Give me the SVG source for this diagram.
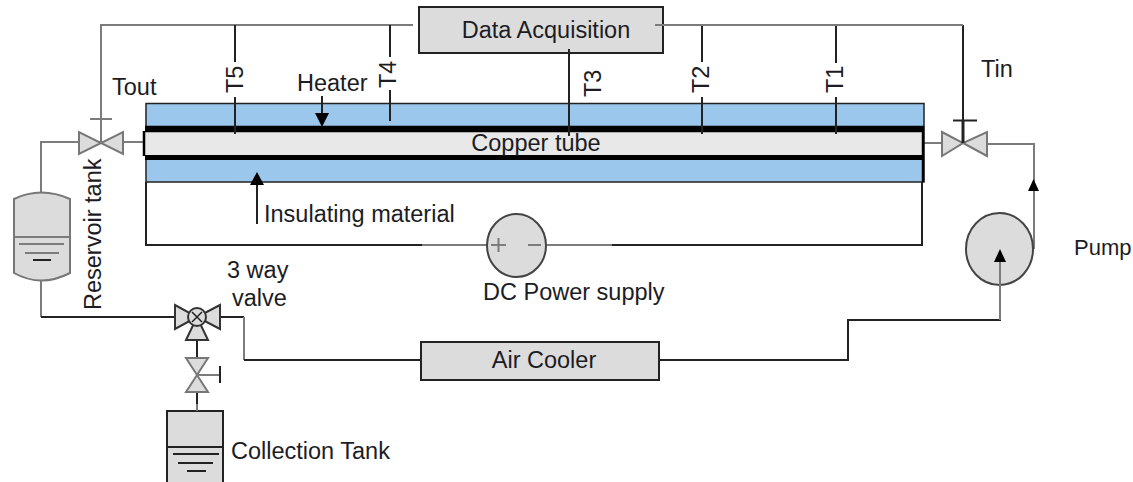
<svg xmlns="http://www.w3.org/2000/svg" width="1133" height="482" viewBox="0 0 1133 482">
<defs>
<style>
text{font-family:"Liberation Sans",Arial,sans-serif;font-size:23.500px;fill:#1c1c24}
.d{fill:none;stroke:#222;stroke-width:2}
.g{fill:none;stroke:#7c7c7c;stroke-width:2}
.b{fill:#dcdcdc;stroke:#222;stroke-width:2}
.v{fill:#dcdcdc;stroke:#777;stroke-width:2}
.ins{fill:#9bc7ec;stroke:#222;stroke-width:1.500}
.a{fill:#000}
</style>
</defs>
<rect width="1133" height="482" fill="#fff"/>
<g id="connectors">
<path class="g" d="M101 142H41V193"/>
<path class="g" d="M101 142V25H413"/>
<path class="g" d="M41 280V317"/>
<path class="d" d="M41 317H175"/>
<path class="d" d="M220 317H244"/>
<path class="g" d="M244 317V360"/>
<path class="d" d="M244 360H421"/>
<path class="d" d="M659 360H848V320H1000V250"/>
<path class="g" d="M1034 249V144H988"/>
<path class="g" d="M924 143H943"/>
<path class="g" d="M124 142H145"/>
<path class="d" d="M963 25V143"/>
<path class="d" d="M235 25V62"/>
<path class="d" d="M390 25V57"/>
<path class="d" d="M702 25V62"/>
<path class="d" d="M836 25V63"/>
<path class="d" d="M146 182V245H422"/>
<path class="g" d="M422 245H487"/>
<path class="g" d="M546 245H612"/>
<path class="d" d="M612 245H922V182"/>
<path class="d" d="M197 340V358"/>
<path class="d" d="M197 392V404"/>
</g>
<g id="heater-tube">
<rect class="ins" x="146" y="103.500" width="778" height="78.500"/>
<rect x="145" y="131" width="778" height="26" fill="#e8e8e8"/>
<path d="M145 129H924" fill="none" stroke="#000" stroke-width="6.500"/>
<path d="M145 157.500H924" fill="none" stroke="#000" stroke-width="5"/>
<path d="M144 131V156M923 126V182" fill="none" stroke="#000" stroke-width="2.500"/>
<path class="d" d="M235 97V134M390 90V121M702 97V134M836 97V134"/>
<text x="536" y="151" text-anchor="middle">Copper tube</text>
</g>
<g id="data-acquisition">
<rect class="b" x="419" y="7" width="244" height="46"/>
<text x="546" y="38" text-anchor="middle">Data Acquisition</text>
<path class="d" d="M569 49V136"/>
<path class="g" d="M655 25H963"/>
</g>
<g id="valve-tout">
<path class="v" d="M79 132V154L101 143ZM123 132V154L101 143Z"/>
<path class="g" d="M90 119H112"/>
</g>
<g id="valve-tin">
<path class="v" d="M942 132V156L963 143ZM987 132V156L963 143Z"/>
<path class="d" d="M953 120.500H977"/>
<path class="d" d="M963 120V143" style="stroke-width:3"/>
</g>
<g id="reservoir">
<path class="v" d="M14 199Q41 186 70 199V273Q41 288 14 273Z"/>
<path class="g" d="M15 237H69M19 244H64M25 253H59"/>
<path class="d" d="M33 260H51"/>
</g>
<g id="valve-3way">
<path class="b" d="M175 305V329L197 317ZM220 305V329L197 317ZM197 317L186 340H208Z" style="stroke:#333"/>
<circle class="v" cx="197" cy="317" r="9" style="stroke:#333"/>
<path class="d" d="M192 312L202 322M202 312L192 322" style="stroke-width:1.500"/>
</g>
<g id="valve-lower">
<path class="v" d="M186 358H208L197 375ZM186 392H208L197 375Z"/>
<path class="g" d="M197 375H220"/>
<path class="d" d="M220 366V383"/>
</g>
<g id="collection-tank">
<rect class="b" x="167" y="411" width="56" height="73"/>
<path class="d" d="M167 447H223M173 454H219M178 463H213M187 471H206"/>
<path class="g" d="M197 404V411"/>
</g>
<g id="air-cooler">
<rect class="b" x="421" y="342" width="238" height="38"/>
<text x="544" y="368" text-anchor="middle">Air Cooler</text>
</g>
<g id="dc-supply">
<ellipse class="b" cx="516.500" cy="245.500" rx="29.500" ry="31.500" style="stroke:#444"/>
<path class="g" d="M491 245H506M498.500 238V252M528 245H541"/>
</g>
<g id="pump">
<ellipse class="b" cx="999.500" cy="249" rx="33.500" ry="36" style="stroke:#444"/>
<path class="g" d="M1000 320V255"/>
<path class="a" d="M994 262L1000 249L1006 262Z"/>
<path class="a" d="M1028 191L1033.500 179L1039 191Z"/>
</g>
<g id="labels">
<path class="d" d="M322 96V115"/>
<path class="a" d="M315 113H329L322 127Z"/>
<path class="d" d="M257 180V224"/>
<path class="a" d="M250 185L257 172L264 185Z"/>
<text x="112" y="95">Tout</text>
<text x="981" y="77">Tin</text>
<text x="297" y="91">Heater</text>
<text x="264" y="222">Insulating material</text>
<text x="483" y="300">DC Power supply</text>
<text x="1074" y="255" style="font-size:22px">Pump</text>
<text x="227" y="278">3 way</text>
<text x="232" y="306">valve</text>
<text x="231" y="459">Collection Tank</text>
<text transform="translate(243 93) rotate(-90)">T5</text>
<text transform="translate(396 88) rotate(-90)">T4</text>
<text transform="translate(601 97) rotate(-90)">T3</text>
<text transform="translate(709 93) rotate(-90)">T2</text>
<text transform="translate(843 93) rotate(-90)">T1</text>
<text transform="translate(101 310) rotate(-90)">Reservoir tank</text>
</g>
</svg>
